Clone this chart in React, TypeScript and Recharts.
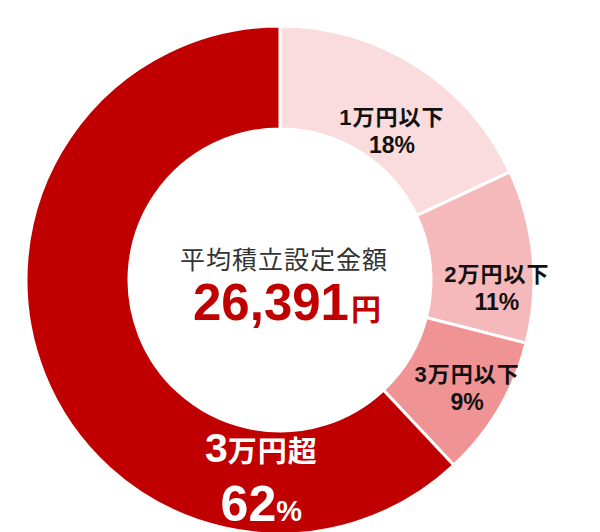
import React from "react";
import { PieChart, Pie, Cell, Label } from "recharts";

const categories = ["1万円以下", "2万円以下", "3万円以下", "3万円超"];
const shares = [18, 11, 9, 62];
const sliceColors = ["#fadcde", "#f5b9bb", "#f09394", "#c00000"];
const centerTitle = "平均積立設定金額";
const centerAmount = "26,391";
const centerUnit = "円";

const data = categories.map((name, i) => ({ name, value: shares[i] }));

const FONT = '"Liberation Sans", "Noto Sans CJK JP", sans-serif';

// where each label block sits, relative to the pie center (angle clockwise from top, radius)
const labelSpots = [
  { angle: 37, r: 186 },
  { angle: 92, r: 217 },
  { angle: 120, r: 216 },
  { angle: 185.5, r: 195 },
];

const renderLabel = (props: any) => {
  const { cx, cy, index, name, value } = props;
  const spot = labelSpots[index];
  const rad = (spot.angle * Math.PI) / 180;
  const x = cx + spot.r * Math.sin(rad);
  const y = cy - spot.r * Math.cos(rad);
  if (index === 3) {
    const lead = name.slice(0, 1);
    const rest = name.slice(1);
    return (
      <g>
        <text x={x} y={y - 12} textAnchor="middle" fill="#fff" fontFamily={FONT} fontWeight="bold">
          <tspan fontSize={41}>{lead}</tspan>
          <tspan fontSize={29} letterSpacing={1}>{rest}</tspan>
        </text>
        <text x={x} y={y + 47} textAnchor="middle" fill="#fff" fontFamily={FONT} fontWeight="bold">
          <tspan fontSize={50}>{value}</tspan>
          <tspan fontSize={29}>%</tspan>
        </text>
      </g>
    );
  }
  return (
    <g>
      <text x={x} y={y - 6} textAnchor="middle" fill="#111" fontFamily={FONT} fontWeight="bold" fontSize={22} letterSpacing={1}>
        {name}
      </text>
      <text x={x} y={y + 22} textAnchor="middle" fill="#111" fontFamily={FONT} fontWeight="bold" fontSize={23}>
        {`${value}%`}
      </text>
    </g>
  );
};

const renderCenter = (props: any) => {
  const vb = props.viewBox || {};
  const cx = vb.cx ?? 280;
  const cy = vb.cy ?? 280;
  return (
    <g>
      <text x={cx + 4} y={cy - 11} textAnchor="middle" fill="#333" fontFamily={FONT} fontSize={25} letterSpacing={1}>
        {centerTitle}
      </text>
      <text x={cx + 7} y={cy + 40} textAnchor="middle" fill="#c00000" fontFamily={FONT} fontWeight="bold">
        <tspan fontSize={51}>{centerAmount}</tspan>
        <tspan fontSize={30} dx={2}>{centerUnit}</tspan>
      </text>
    </g>
  );
};

export default function App() {
  return (
    <div style={{ position: "absolute", left: 0, top: 0, width: 600, height: 532, background: "#fff", overflow: "hidden" }}>
      <PieChart width={600} height={532} margin={{ top: 0, right: 0, bottom: 0, left: 0 }}>
        <Pie
          data={data}
          dataKey="value"
          nameKey="name"
          cx={280}
          cy={280}
          innerRadius={151}
          outerRadius={254}
          startAngle={90}
          endAngle={-270}
          stroke="#ffffff"
          strokeWidth={3}
          label={renderLabel}
          labelLine={false}
          isAnimationActive={false}
        >
          {data.map((d, i) => (
            <Cell key={d.name} fill={sliceColors[i]} />
          ))}
          <Label position="center" content={renderCenter} />
        </Pie>
      </PieChart>
    </div>
  );
}
